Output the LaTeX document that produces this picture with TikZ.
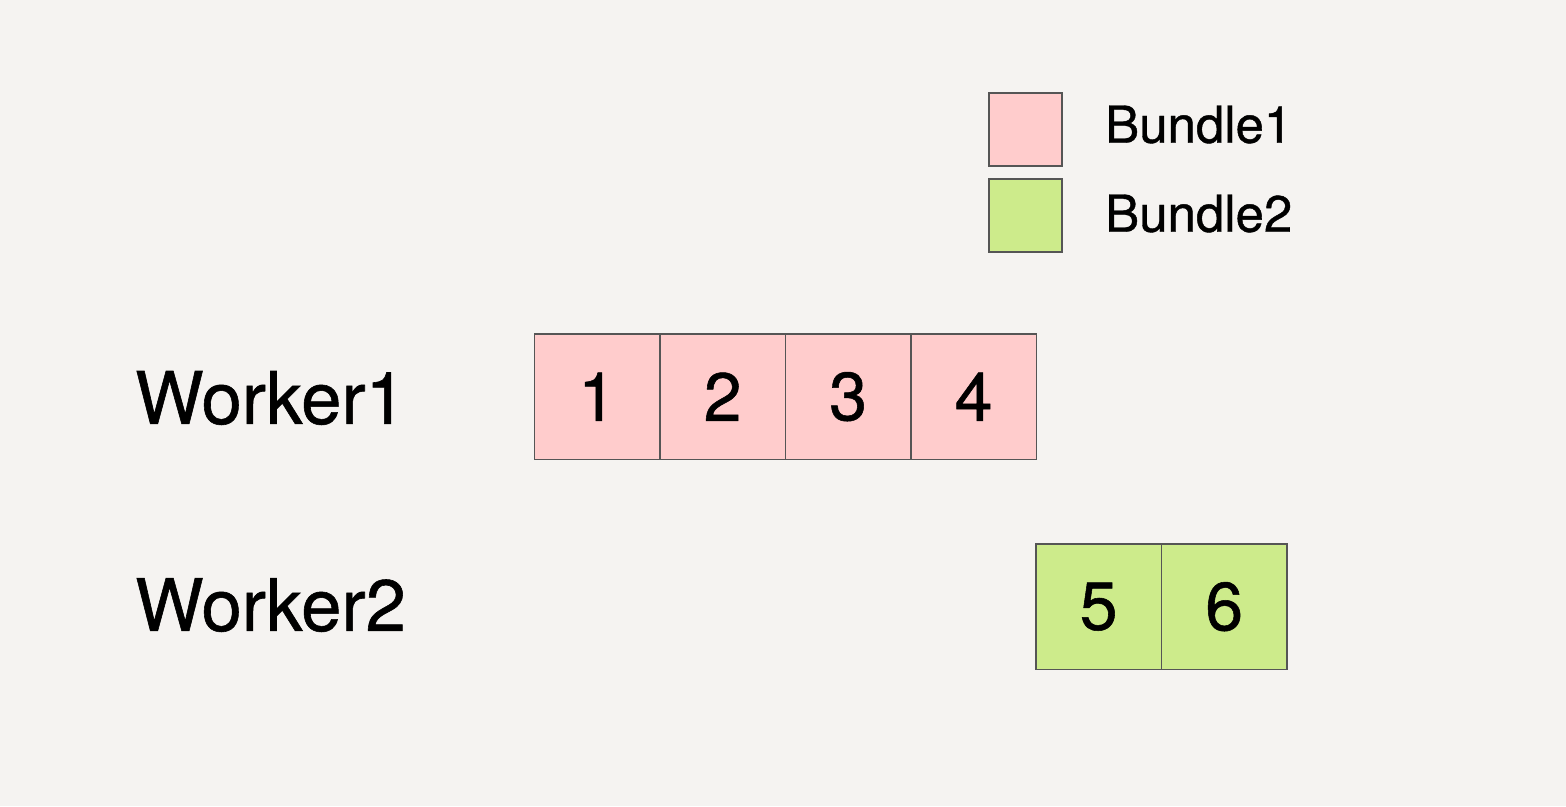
\documentclass[tikz,border=0pt]{standalone}
\usepackage{fontspec}
\setmainfont{TeX Gyre Heros}
\newfontfamily\heavyfont[FakeBold=0.8]{TeX Gyre Heros}
\definecolor{bg}{HTML}{F5F3F1}
\definecolor{pinkc}{HTML}{FFCCCC}
\definecolor{greenc}{HTML}{CDEB8B}
\definecolor{edge}{HTML}{555555}
\begin{document}
\begin{tikzpicture}[x=1pt,y=-1pt,
  cell/.style={draw=edge,line width=1.8pt,minimum width=125.5pt,minimum height=125.5pt,inner sep=0pt,anchor=north west,font=\heavyfont\fontsize{68}{70}\selectfont},
  legbox/.style={draw=edge,line width=1.8pt,minimum width=73pt,minimum height=73pt,inner sep=0pt,anchor=north west},
  worker/.style={anchor=west,inner sep=0pt,font=\heavyfont\fontsize{72.5}{76}\selectfont},
  legtext/.style={anchor=west,inner sep=0pt,font=\heavyfont\fontsize{51}{54}\selectfont}]
\fill[bg] (0,0) rectangle (1566,806);
\useasboundingbox (0,0) rectangle (1566,806);
% legend
\node[legbox,fill=pinkc] (l1) at (988,92) {};
\node[legbox,fill=greenc] (l2) at (988,178) {};
\node[legtext] (t1) at (1105,124.5) {Bundle1};
\node[legtext] (t2) at (1105,213.5) {Bundle2};
% workers
\node[worker] (w1) at (135,398) {Worker1};
\node[worker] (w2) at (135,605) {Worker2};
% cells
\node[cell,fill=pinkc] (c1) at (533.5,333) {1};
\node[cell,fill=pinkc] (c2) at (659,333) {2};
\node[cell,fill=pinkc] (c3) at (784.5,333) {3};
\node[cell,fill=pinkc] (c4) at (910,333) {4};
\node[cell,fill=greenc] (c5) at (1035,543) {5};
\node[cell,fill=greenc] (c6) at (1160.5,543) {6};
\end{tikzpicture}
\end{document}
